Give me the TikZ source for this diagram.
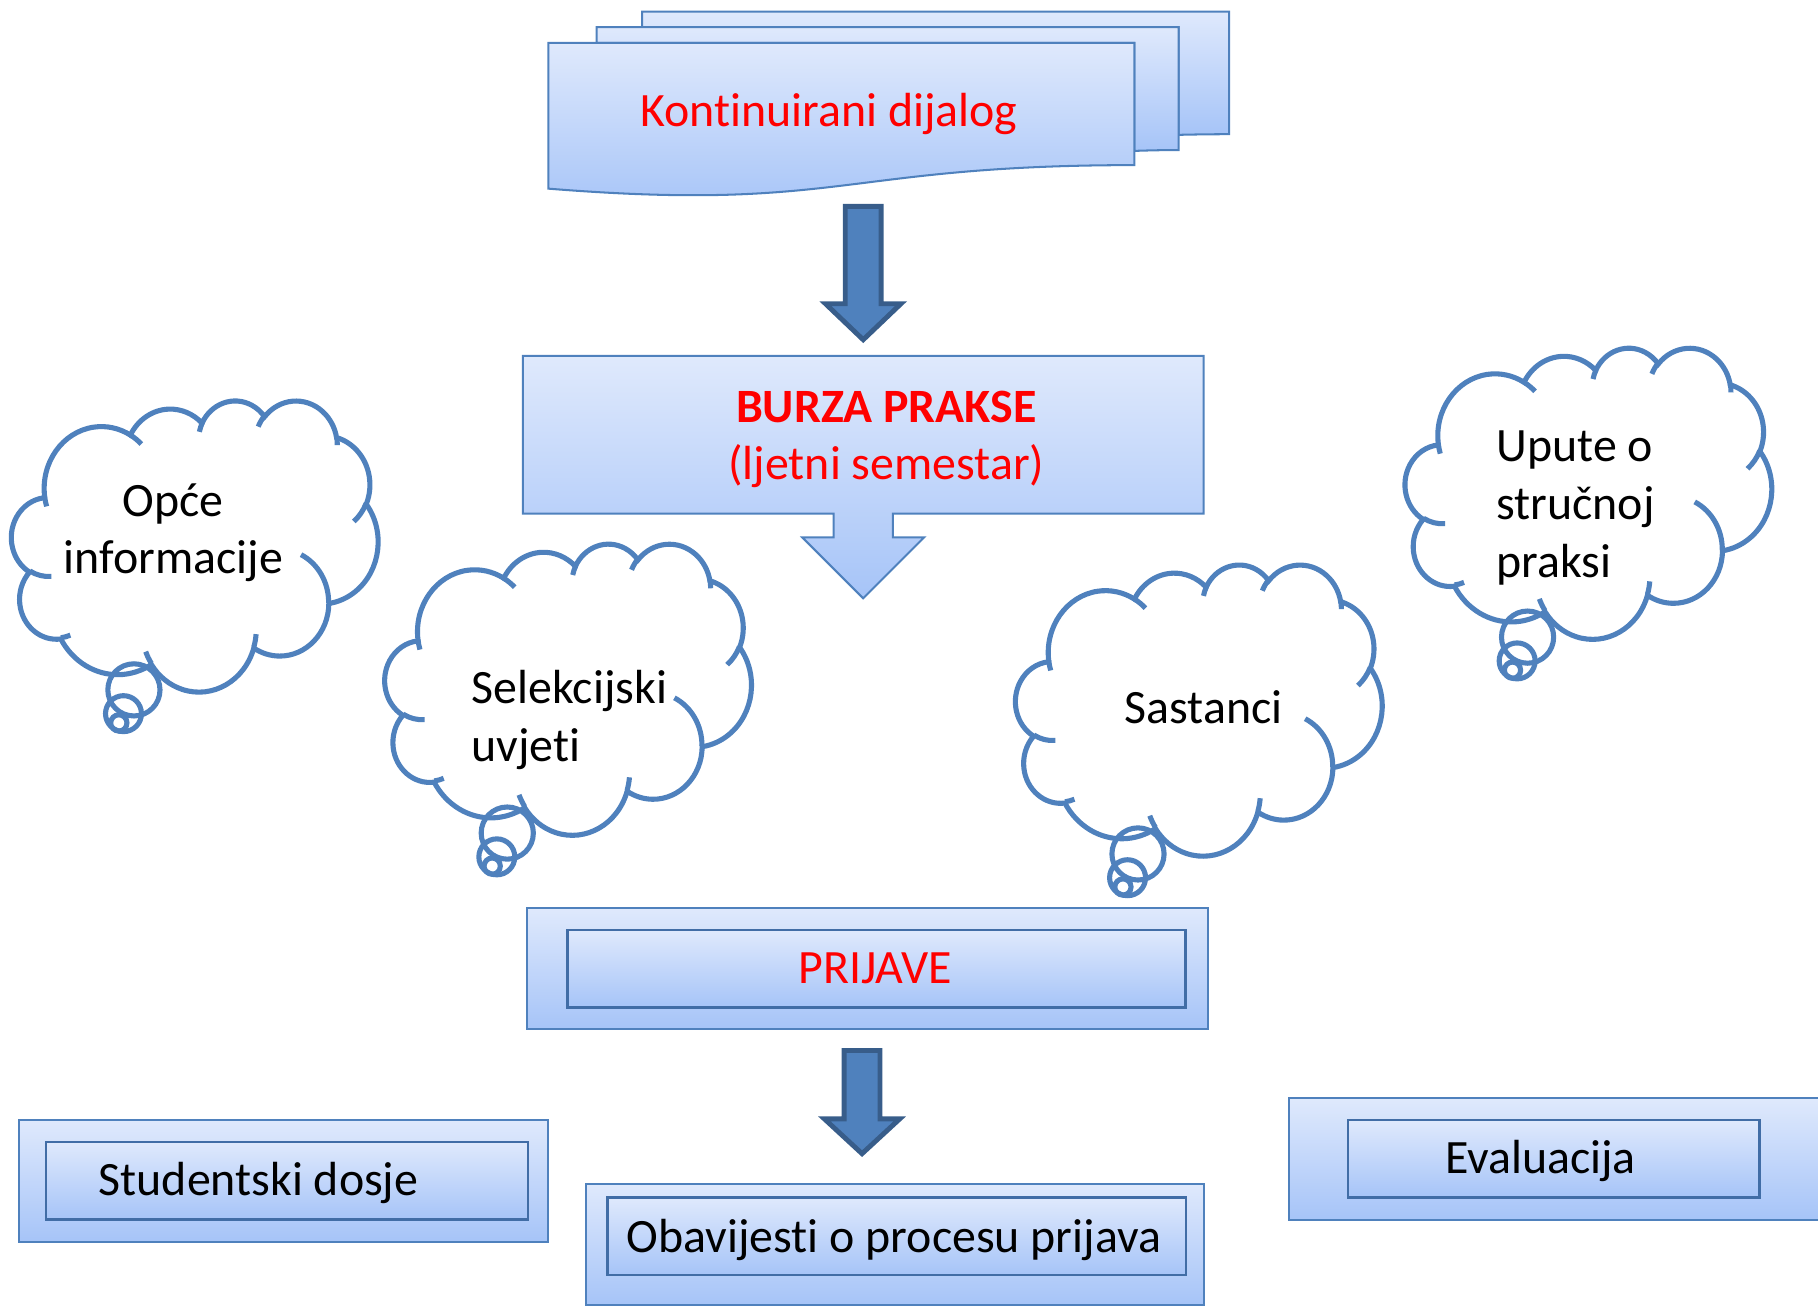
\documentclass[tikz,border=0pt]{standalone}
\usepackage{fontspec}
\setmainfont{Carlito}[Ligatures={NoCommon}, RawFeature={-liga}]
\usetikzlibrary{positioning}

\definecolor{boxtop}{HTML}{DFE9FC}
\definecolor{boxbot}{HTML}{A6C4F8}
\definecolor{boxline}{HTML}{4F81BD}
\definecolor{innerline}{HTML}{416DA6}
\definecolor{arrowfill}{HTML}{4F81BD}
\definecolor{arrowline}{HTML}{385D8A}

% one arc of the cloud outline (office angles, y pointing down)
\newcommand{\cloudarc}[4]{%
  \pgfextra{%
    \pgfmathsetmacro\arcstart{atan2(#1*sin(#3),#2*cos(#3))}%
    \pgfmathsetmacro\arcend{atan2(#1*sin(#3+#4),#2*cos(#3+#4))}%
    \pgfmathsetmacro\arcdelta{mod(\arcend-\arcstart+720,360)}%
    \global\let\arcstart\arcstart \global\let\arcdelta\arcdelta}%
  arc[start angle=\arcstart, delta angle=\arcdelta, x radius=#1, y radius=#2]}

\tikzset{
  gradbox/.style={draw=boxline, line width=0.5pt, top color=boxtop, bottom color=boxbot},
  innerbox/.style={gradbox, draw=innerline, line width=0.55pt},
  blockarrow/.style={draw=arrowline, fill=arrowfill, line width=1.2pt, line join=miter},
  cloudline/.style={draw=boxline, line width=1.25pt},
  boxtext/.style={inner sep=0pt, font=\fontsize{11.75}{14.2}\selectfont},
  redtext/.style={boxtext, text=red},
  thoughtcloud/.pic={
    % cloud outline
    \path[cloudline, fill=white, xscale=0.073148, yscale=-0.058102]
      (3.9,14.37) \cloudarc{6.753}{9.19}{-190.4875}{123.7805}
      \cloudarc{5.333}{7.267}{-144.1024}{89.9452}
      \cloudarc{4.365}{5.945}{-145.8079}{99.723}
      \cloudarc{4.857}{6.595}{-130.9861}{117.2417}
      \cloudarc{5.333}{7.273}{-78.7089}{109.0269}
      \cloudarc{6.775}{9.22}{-46.2673}{130.269}
      \cloudarc{5.785}{7.867}{0.625}{114.0333}
      \cloudarc{6.752}{9.215}{22.4516}{115.1726}
      \cloudarc{7.72}{10.543}{66.2426}{75.711}
      \cloudarc{4.36}{5.918}{-274.9421}{146.7356}
      \cloudarc{4.345}{5.945}{-246.8285}{152.5189}
      -- cycle;
    % inner hooks
    \draw[cloudline, xscale=0.073148, yscale=-0.058102]
      (4.693,26.177) \cloudarc{4.345}{5.945}{86.742}{26.4295}
      (6.928,34.899) \cloudarc{4.36}{5.918}{73.6105}{11.4475}
      (16.478,39.09) \cloudarc{6.752}{9.215}{137.6242}{14.0811}
      (28.827,34.751) \cloudarc{6.752}{9.215}{6.4533}{15.9984}
      (34.129,22.954) \cloudarc{5.785}{7.867}{-70.2924}{70.9174}
      (41.798,15.354) \cloudarc{5.333}{7.273}{30.318}{27.7515}
      (38.324,5.426) \cloudarc{4.857}{6.595}{-13.7443}{14.8589}
      (29.078,3.952) \cloudarc{4.857}{6.595}{-149.1815}{18.1954}
      (22.141,4.72) \cloudarc{4.365}{5.945}{-163.4943}{17.6864}
      (14.0,5.192) \cloudarc{6.753}{9.19}{-66.707}{12.3194}
      (4.127,15.789) \cloudarc{6.753}{9.19}{157.6544}{11.8582};
    % thought bubbles
    \draw[cloudline] (1.055,-2.50) circle (0.225);
    \draw[cloudline] (0.965,-2.705) circle (0.155);
    \draw[cloudline] (0.925,-2.785) circle (0.07);
  }
}

\begin{document}
\begin{tikzpicture}
	\useasboundingbox (0,0) rectangle (15.68,-11.28);

	% Draw the stacked documents
	\draw[gradbox] (5.5377,-0.2334) -- (5.5377,-0.10) -- (10.60,-0.10) -- (10.60,-1.1574)
		.. controls (10.3826,-1.1574) and (10.1652,-1.1629) .. (10.1652,-1.1629) -- (10.1652,-0.2334) -- cycle;
	\draw[gradbox] (5.1463,-0.370) -- (5.1463,-0.2334) -- (10.1652,-0.2334) -- (10.1652,-1.294)
		.. controls (9.9744,-1.294) and (9.7834,-1.3014) .. (9.7834,-1.3014) -- (9.7834,-0.370) -- cycle;
	\draw[gradbox] (4.73,-1.627) .. controls (7.2568,-1.8297) and (7.2568,-1.4241) .. (9.7834,-1.4241)
		-- (9.7834,-0.370) -- (4.73,-0.370) -- cycle;
	\node[redtext, anchor=base] (dijalog) at (7.15,-1.09) {Kontinuirani dijalog};

	% Upper block arrow
	\draw[blockarrow] (7.29,-1.78) -- (7.60,-1.78) -- (7.60,-2.62) -- (7.77,-2.62)
		-- (7.445,-2.93) -- (7.12,-2.62) -- (7.29,-2.62) -- cycle;

	% Draw the callout for the exchange
	\draw[gradbox] (4.51,-3.07) -- (10.38,-3.07) -- (10.38,-4.43) -- (7.70,-4.43) -- (7.70,-4.635)
		-- (7.97,-4.635) -- (7.445,-5.16) -- (6.92,-4.635) -- (7.19,-4.635) -- (7.19,-4.43)
		-- (4.51,-4.43) -- cycle;
	\node[redtext, align=center] (burza) at (7.645,-3.79) {\bfseries BURZA PRAKSE\\(ljetni semestar)};

	% Add the thought clouds
	\pic (opce) at (0.10,-3.45) {thoughtcloud};
	\pic (selekcija) at (3.32,-4.685) {thoughtcloud};
	\pic (sastanci) at (8.76,-4.865) {thoughtcloud};
	\pic (upute) at (12.12,-2.995) {thoughtcloud};
	\node[boxtext, align=center] (opcetxt) at (1.495,-4.595) {Opće\\informacije};
	\node[boxtext, align=left, anchor=west] (selekcijatxt) at (4.06,-6.208) {Selekcijski\\uvjeti};
	\node[boxtext, anchor=base] (sastancitxt) at (10.38,-6.24) {Sastanci};
	\node[boxtext, align=left, anchor=west] (uputetxt) at (12.90,-4.38) {Upute o\\stručnoj\\praksi};

	% Draw the applications box
	\draw[gradbox] (4.545,-7.834) rectangle (10.42,-8.875);
	\draw[innerbox] (4.895,-8.02) rectangle (10.225,-8.69);
	\node[redtext, anchor=base] (prijave) at (7.55,-8.48) {PRIJAVE};

	% Lower block arrow
	\draw[blockarrow] (7.28,-9.06) -- (7.59,-9.06) -- (7.59,-9.65) -- (7.76,-9.65)
		-- (7.435,-9.95) -- (7.11,-9.65) -- (7.28,-9.65) -- cycle;

	% Draw the bottom row of boxes
	\draw[gradbox] (0.16,-9.66) rectangle (4.728,-10.71);
	\draw[innerbox] (0.40,-9.847) rectangle (4.553,-10.517);
	\node[boxtext, anchor=base] (dosje) at (2.23,-10.31) {Studentski dosje};

	\draw[gradbox] (5.053,-10.21) rectangle (10.385,-11.256);
	\draw[innerbox] (5.24,-10.327) rectangle (10.227,-10.997);
	\node[boxtext, anchor=base] (obavijesti) at (7.71,-10.80) {Obavijesti o procesu prijava};

	\begin{scope}
		\clip (0,0) rectangle (15.68,-11.28);
		\draw[gradbox] (11.114,-9.473) rectangle (15.75,-10.52);
	\end{scope}
	\draw[innerbox] (11.626,-9.66) rectangle (15.175,-10.327);
	\node[boxtext, anchor=base] (evaluacija) at (13.287,-10.12) {Evaluacija};

\end{tikzpicture}
\end{document}
